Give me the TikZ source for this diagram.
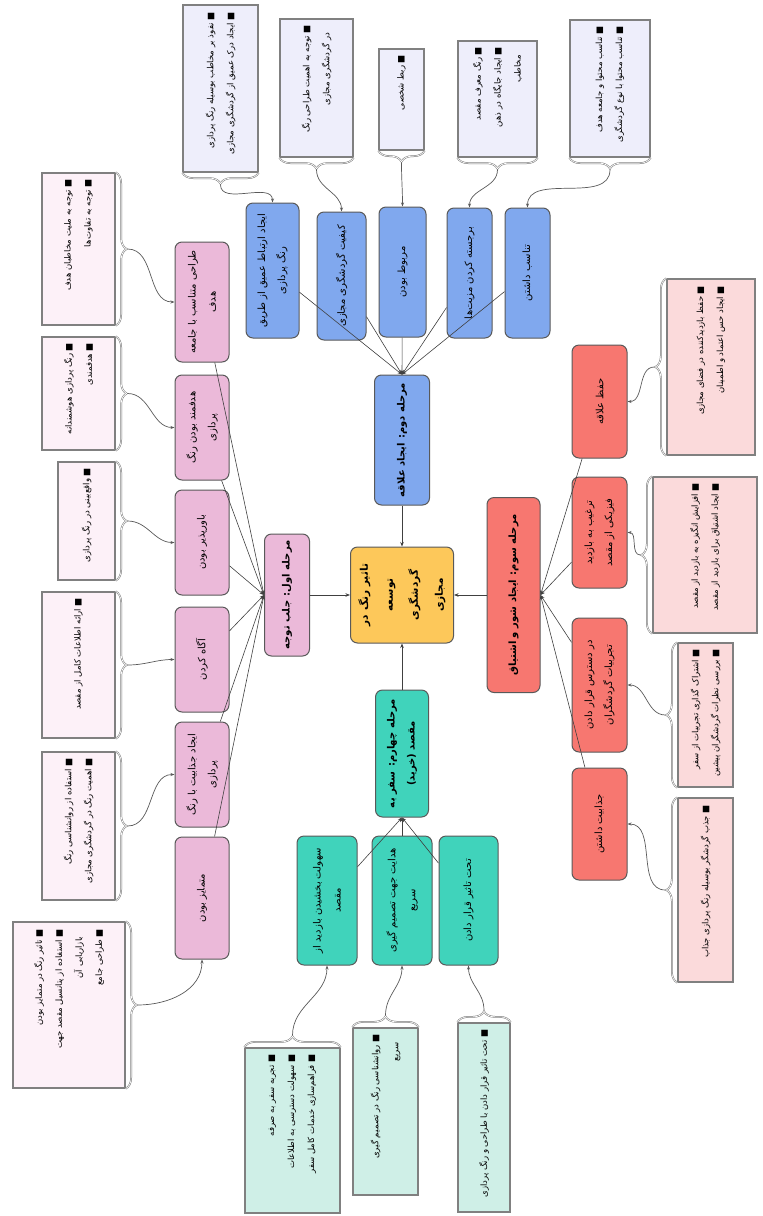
\documentclass[tikz,border=0pt]{standalone}
\usepackage{fontspec}
\usepackage{graphicx}
\setmainfont{DejaVu Sans}[Script=Arabic]
\TeXXeTstate=1
\usetikzlibrary{decorations.pathreplacing,arrows.meta}
\definecolor{yelc}{HTML}{FDC85A}
\definecolor{pinkc}{HTML}{EBB9D9}
\definecolor{bluec}{HTML}{80A8EE}
\definecolor{redc}{HTML}{F77770}
\definecolor{tealc}{HTML}{40D3BB}
\definecolor{bnote}{HTML}{EEEEFB}
\definecolor{pnote}{HTML}{FDF1F8}
\definecolor{rnote}{HTML}{FBDADB}
\definecolor{tnote}{HTML}{CFEFE7}
\newcommand\fatx[1]{\beginR#1\endR}
\newcommand\rottext[3]{\rotatebox{90}{\parbox{#1pt}{#2#3}}}
\newcommand\kidfont{\fontsize{10}{20}\selectfont\centering}
\newcommand\stgfont{\fontsize{10}{20}\selectfont\bfseries\centering}
\newcommand\cenfont{\fontsize{10.5}{25}\selectfont\bfseries\centering}
\newcommand\notefont{\fontsize{8.5}{20}\selectfont\raggedleft}
\newcommand\contind{\kern8pt}
\begin{document}
\begin{tikzpicture}[x=1pt,y=1pt,
  sz/.style 2 args={minimum width=#1pt, minimum height=#2pt},
  rbox/.style={rounded corners=7pt, draw=black!65, line width=1pt, inner sep=0pt},
  cenbox/.style={rbox, fill=yelc},
  pinkbox/.style={rbox, fill=pinkc},
  bluebox/.style={rbox, fill=bluec},
  redbox/.style={rbox, fill=redc},
  tealbox/.style={rbox, fill=tealc},
  nbox/.style={draw=black!50, line width=1.3pt, inner sep=0pt},
  brc/.style={decorate, decoration={brace, amplitude=11pt}, draw=black!55, line width=0.5pt, double=white, double distance=0.7pt},
  lnk/.style={draw=black!75, line width=0.6pt, -{Stealth[length=4.5pt,width=3.5pt]}},
  cnc/.style={draw=black!65, line width=0.7pt, -{Stealth[length=4pt,width=3pt]}}]
\useasboundingbox (0,0) rectangle (763,-1216);

% centre and stages
\node[cenbox, sz={103}{96}] (c) at (402,-595) {\rottext{86}{\cenfont}{\fatx{تاثیر رنگ در}\\\fatx{توسعه گردشگری}\\\fatx{مجازی}}};
\node[pinkbox, sz={45}{122}] (s1) at (287,-595) {\rottext{116}{\stgfont}{\fatx{مرحله اول: جلب توجه}}};
\node[bluebox, sz={55}{130}] (s2) at (402,-440) {\rottext{124}{\stgfont}{\fatx{مرحله دوم: ایجاد علاقه}}};
\node[redbox, sz={53}{195}] (s3) at (513.5,-595) {\rottext{185}{\stgfont}{\fatx{مرحله سوم: ایجاد شور و اشتیاق}}};
\node[tealbox, sz={53}{127}] (s4) at (402,-753.5) {\rottext{120}{\stgfont}{\fatx{مرحله چهارم: سفر به}\\\fatx{مقصد (خرید)}}};

% blue children
\node[bluebox, sz={53}{135}] (b1) at (272.5,-270.5) {\rottext{129}{\kidfont}{\fatx{ایجاد ارتباط عمیق از طریق}\\\fatx{رنگ پردازی}}};
\node[bluebox, sz={49}{128}] (b2) at (341.5,-276) {\rottext{122}{\kidfont}{\fatx{کیفیت گردشگری مجازی}}};
\node[bluebox, sz={47}{130}] (b3) at (402.5,-272) {\rottext{124}{\kidfont}{\fatx{مربوط بودن}}};
\node[bluebox, sz={45}{130}] (b4) at (469.5,-273) {\rottext{124}{\kidfont}{\fatx{برجسته کردن مزیت‌ها}}};
\node[bluebox, sz={45}{130}] (b5) at (527.5,-273) {\rottext{124}{\kidfont}{\fatx{تناسب داشتن}}};

% pink children
\node[pinkbox, sz={54}{120}] (p1) at (202,-302) {\rottext{114}{\kidfont}{\fatx{طراحی متناسب با جامعه}\\\fatx{هدف}}};
\node[pinkbox, sz={54}{105}] (p2) at (202,-427.5) {\rottext{100}{\kidfont}{\fatx{هدفمند بودن رنگ}\\\fatx{پردازی}}};
\node[pinkbox, sz={54}{105}] (p3) at (202,-542.5) {\rottext{100}{\kidfont}{\fatx{باورپذیر بودن}}};
\node[pinkbox, sz={54}{105}] (p4) at (202,-659.5) {\rottext{100}{\kidfont}{\fatx{آگاه کردن}}};
\node[pinkbox, sz={54}{105}] (p5) at (202,-774.5) {\rottext{100}{\kidfont}{\fatx{ایجاد جذابیت با رنگ}\\\fatx{پردازی}}};
\node[pinkbox, sz={54}{122}] (p6) at (202,-898) {\rottext{116}{\kidfont}{\fatx{متمایز بودن}}};

% red children
\node[redbox, sz={55}{113}] (r1) at (599.5,-401.5) {\rottext{107}{\kidfont}{\fatx{حفظ علاقه}}};
\node[redbox, sz={55}{111}] (r2) at (599.5,-532.5) {\rottext{105}{\kidfont}{\fatx{ترغیب به بازدید}\\\fatx{فیزیکی از مقصد}}};
\node[redbox, sz={55}{134}] (r3) at (599.5,-685) {\rottext{128}{\kidfont}{\fatx{در دسترس قرار دادن}\\\fatx{تجربیات گردشگران}}};
\node[redbox, sz={55}{112}] (r4) at (599.5,-824) {\rottext{106}{\kidfont}{\fatx{جذابیت داشتن}}};

% teal children
\node[tealbox, sz={60}{129}] (t1) at (327,-900.5) {\rottext{124}{\kidfont}{\fatx{سهولت بخشیدن بازدید از}\\\fatx{مقصد}}};
\node[tealbox, sz={60}{129}] (t2) at (402,-900.5) {\rottext{124}{\kidfont}{\fatx{هدایت جهت تصمیم گیری}\\\fatx{سریع}}};
\node[tealbox, sz={59}{129}] (t3) at (468.5,-900.5) {\rottext{124}{\kidfont}{\fatx{تحت تاثیر قرار دادن}}};

% notes for stage 2 (top)
\node[nbox, fill=bnote, sz={75}{167}] (nb1) at (220.5,-88.5) {\rottext{152}{\notefont}{\fatx{■ نفوذ بر مخاطب بوسیله رنگ پردازی}\\\fatx{■ ایجاد درک عمیق از گردشگری مجازی}}};
\node[nbox, fill=bnote, sz={73}{138}] (nb2) at (316.5,-88) {\rottext{126}{\notefont}{\fatx{■ توجه به اهمیت طراحی رنگ}\\\fatx{در گردشگری مجازی}\contind}};
\node[nbox, fill=bnote, sz={45}{101}] (nb3) at (401.5,-99.5) {\rottext{89}{\notefont}{\fatx{■ ربط شخصی}}};
\node[nbox, fill=bnote, sz={79}{116}] (nb4) at (497.5,-99) {\rottext{104}{\notefont}{\fatx{■ رنگ معرف مقصد}\\\fatx{■ ایجاد جایگاه در ذهن}\\\fatx{مخاطب}\contind}};
\node[nbox, fill=bnote, sz={80}{137}] (nb5) at (610,-88.5) {\rottext{125}{\notefont}{\fatx{■ تناسب محتوا و جامعه هدف}\\\fatx{■ تناسب محتوا با نوع گردشگری}}};

% notes for stage 1 (left)
\node[nbox, fill=pnote, sz={73}{152}] (np1) at (78.5,-249) {\rottext{140}{\notefont}{\fatx{■ توجه به ملیت مخاطبان هدف}\\\fatx{■ توجه به تفاوت‌ها}}};
\node[nbox, fill=pnote, sz={73}{113}] (np2) at (78.5,-393.5) {\rottext{101}{\notefont}{\fatx{■ رنگ پردازی هوشمندانه}\\\fatx{■ هدفمندی}}};
\node[nbox, fill=pnote, sz={57}{118}] (np3) at (86.5,-521) {\rottext{106}{\notefont}{\fatx{■ واقع‌بینی در رنگ پردازی}}};
\node[nbox, fill=pnote, sz={73}{146}] (np4) at (78.5,-665) {\rottext{134}{\notefont}{\fatx{■ ارائه اطلاعات کامل از مقصد}}};
\node[nbox, fill=pnote, sz={73}{148}] (np5) at (78.5,-826) {\rottext{136}{\notefont}{\fatx{■ استفاده از روانشناسی رنگ}\\\fatx{■ اهمیت رنگ در گردشگری مجازی}}};
\node[nbox, fill=pnote, sz={112}{166}] (np6) at (69,-1005) {\rottext{152}{\notefont}{\fatx{■ تاثیر رنگ در متمایز بودن}\\\fatx{■ استفاده از پتانسیل مقصد جهت}\\\fatx{بازاریابی آن}\contind\\\fatx{■ طراحی جامع}}};

% notes for stage 3 (right)
\node[nbox, fill=rnote, sz={88}{176}] (nr1) at (711,-367) {\rottext{162}{\notefont}{\fatx{■ حفظ بازدیدکننده در فضای مجازی}\\\fatx{■ ایجاد حس اعتماد و اطمینان}}};
\node[nbox, fill=rnote, sz={104}{156}] (nr2) at (705,-555) {\rottext{144}{\notefont}{\fatx{■ افزایش انگیزه به بازدید از مقصد}\\\fatx{■ ایجاد اشتیاق برای بازدید از مقصد}}};
\node[nbox, fill=rnote, sz={55}{144}] (nr3) at (705.5,-715) {\rottext{132}{\notefont}{\fatx{■ اشتراک گذاری تجربیات از سفر}\\\fatx{■ بررسی نظرات گردشگران پیشین}}};
\node[nbox, fill=rnote, sz={55}{184}] (nr4) at (705.5,-890) {\rottext{170}{\notefont}{\fatx{■ جذب گردشگر بوسیله رنگ پردازی جذاب}}};

% notes for stage 4 (bottom)
\node[nbox, fill=tnote, sz={95}{165}] (nt1) at (292.5,-1130.5) {\rottext{152}{\notefont}{\fatx{■ تجربه سفر به صرفه}\\\fatx{■ سهولت دسترسی به اطلاعات}\\\fatx{■ فراهم‌سازی خدمات کامل سفر}}};
\node[nbox, fill=tnote, sz={65}{167}] (nt2) at (385.5,-1111.5) {\rottext{154}{\notefont}{\fatx{■ روانشناسی رنگ در تصمیم گیری}\\\fatx{سریع}\contind}};
\node[nbox, fill=tnote, sz={52}{189}] (nt3) at (484,-1117.5) {\rottext{176}{\notefont}{\fatx{■ تحت تاثیر قرار دادن با طراحی و رنگ پردازی}}};

% braces and their tips
\foreach \i in {1,...,5}{
  \draw[brc] (nb\i.south east) -- (nb\i.south west);
  \coordinate (tb\i) at ([yshift=-12pt]nb\i.south);
}
\foreach \i in {1,...,6}{
  \draw[brc] (np\i.north east) -- (np\i.south east);
  \coordinate (tp\i) at ([xshift=12pt]np\i.east);
}
\foreach \i in {1,...,4}{
  \draw[brc] (nr\i.south west) -- (nr\i.north west);
  \coordinate (tr\i) at ([xshift=-12pt]nr\i.west);
}
\foreach \i in {1,...,3}{
  \draw[brc] (nt\i.north west) -- (nt\i.north east);
  \coordinate (tt\i) at ([yshift=12pt]nt\i.north);
}

% note connectors
\foreach \i in {1,...,5}{ \draw[cnc] (tb\i) to[out=-90,in=90] (b\i); }
\foreach \i in {1,...,5}{ \draw[cnc] (tp\i) to[out=0,in=180] (p\i); }
\draw[cnc] (tp6) to[out=0,in=-90] (p6);
\foreach \i in {1,...,4}{ \draw[cnc] (tr\i) to[out=180,in=0] (r\i); }
\foreach \i in {1,...,3}{ \draw[cnc] (tt\i) to[out=90,in=-90] (t\i); }

% children to stages
\foreach \i in {1,...,5}{ \draw[lnk] (b\i) -- (s2.north); }
\foreach \i in {1,...,6}{ \draw[lnk] (p\i) -- (s1.west); }
\foreach \i in {1,...,4}{ \draw[lnk] (r\i) -- (s3.east); }
\foreach \i in {1,...,3}{ \draw[lnk] (t\i) -- (s4.south); }

% stages to centre
\draw[lnk] (s1) -- (c);
\draw[lnk] (s2) -- (c);
\draw[lnk] (s3) -- (c);
\draw[lnk] (s4) -- (c);
\end{tikzpicture}
\end{document}
